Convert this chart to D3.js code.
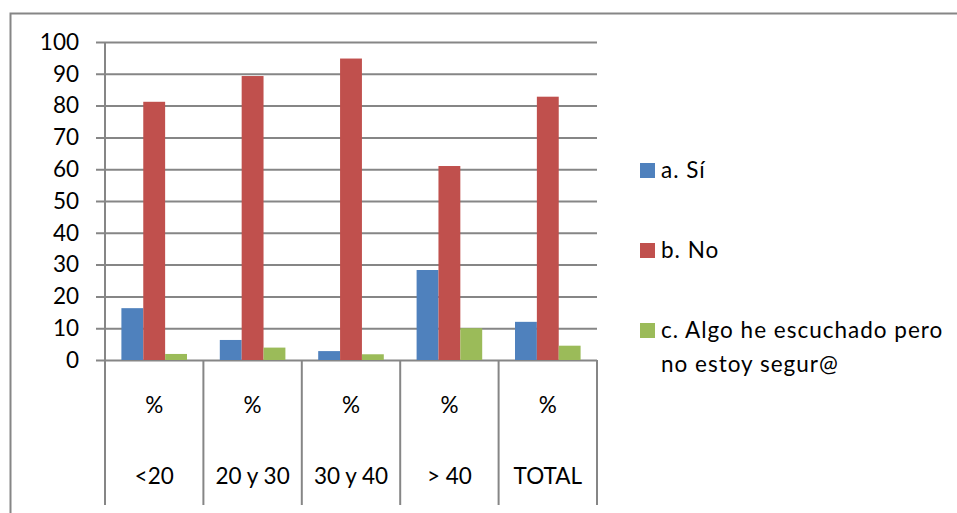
<!DOCTYPE html>
<html>
<head>
<meta charset="utf-8">
<script src="https://cdn.jsdelivr.net/npm/d3@7"></script>
<style>
  body { margin: 0; background: #fff; }
  text { font-family: Lato, "Open Sans", sans-serif; fill: #000; }
</style>
</head>
<body>
<svg id="chart"></svg>
<script>
const svgWidth = 957, svgHeight = 513;

const categories = ['<20', '20 y 30', '30 y 40', '> 40', 'TOTAL'];
const subLabels = ['%', '%', '%', '%', '%'];
const seriesNames = ['a. Sí', 'b. No', 'c. Algo he escuchado pero no estoy segur@'];
const siValues = [16.3, 6.3, 2.8, 28.3, 12.0];
const noValues = [81.2, 89.3, 94.8, 61.0, 82.8];
const algoValues = [1.9, 3.9, 1.8, 10.0, 4.5];
const colors = ['#4F81BD', '#C0504D', '#9BBB59'];
const yTicks = [0, 10, 20, 30, 40, 50, 60, 70, 80, 90, 100];

const seriesValues = [siValues, noValues, algoValues];
const fontSize = 22.5;

const svg = d3.select('#chart')
    .attr('width', svgWidth)
    .attr('height', svgHeight);

// outer chart border (cut off at right and bottom)
svg.append('rect')
    .attr('x', 10.5)
    .attr('y', 13.5)
    .attr('width', svgWidth + 20)
    .attr('height', svgHeight)
    .attr('fill', 'none')
    .attr('stroke', '#868686')
    .attr('stroke-width', 2);

const plotLeft = 105, plotRight = 597, plotTop = 42, plotBottom = 360;

const x = d3.scaleBand()
    .domain(categories)
    .range([plotLeft, plotRight]);

const xInner = d3.scaleBand()
    .domain(seriesNames)
    .range([0, x.bandwidth()])
    .paddingOuter(0.75)
    .paddingInner(0);

const y = d3.scaleLinear()
    .domain([0, 100])
    .range([plotBottom, plotTop]);

// gridlines with ticks
svg.append('g')
    .attr('transform', `translate(${plotLeft},0)`)
    .call(d3.axisLeft(y).tickValues(yTicks).tickSize(-(plotRight - plotLeft)).tickSizeOuter(0).tickPadding(26))
    .call(g => g.select('.domain').remove())
    .call(g => g.selectAll('.tick line')
        .attr('x1', -9)
        .attr('stroke', '#868686')
        .attr('stroke-width', 2))
    .call(g => g.selectAll('.tick text')
        .attr('font-size', fontSize)
        .attr('font-family', 'Lato, sans-serif')
        .attr('fill', '#000'));

// vertical axis line
svg.append('line')
    .attr('x1', plotLeft).attr('x2', plotLeft)
    .attr('y1', plotTop).attr('y2', 505)
    .attr('stroke', '#868686')
    .attr('stroke-width', 2);

// category separators (table style labels)
svg.selectAll('.sep')
    .data(categories)
    .enter()
    .append('line')
    .attr('class', 'sep')
    .attr('x1', d => x(d) + x.bandwidth())
    .attr('x2', d => x(d) + x.bandwidth())
    .attr('y1', plotBottom)
    .attr('y2', 505)
    .attr('stroke', '#868686')
    .attr('stroke-width', 2);

// bars
const groups = svg.selectAll('.cat')
    .data(categories)
    .enter()
    .append('g')
    .attr('class', 'cat')
    .attr('transform', d => `translate(${x(d)},0)`);

groups.selectAll('rect')
    .data((d, i) => seriesNames.map((s, j) => ({ s, j, v: seriesValues[j][i] })))
    .enter()
    .append('rect')
    .attr('x', d => xInner(d.s))
    .attr('y', d => y(d.v))
    .attr('width', xInner.bandwidth())
    .attr('height', d => plotBottom - y(d.v))
    .attr('fill', d => colors[d.j]);

// category labels
svg.selectAll('.pct')
    .data(categories)
    .enter()
    .append('text')
    .attr('class', 'pct')
    .attr('x', d => x(d) + x.bandwidth() / 2)
    .attr('y', 413)
    .attr('text-anchor', 'middle')
    .attr('font-size', fontSize)
    .text((d, i) => subLabels[i]);

svg.selectAll('.catlabel')
    .data(categories)
    .enter()
    .append('text')
    .attr('class', 'catlabel')
    .attr('x', d => x(d) + x.bandwidth() / 2)
    .attr('y', 484)
    .attr('text-anchor', 'middle')
    .attr('font-size', fontSize)
    .text(d => d);

// legend
const legendY = [163, 243, 323];
const legendLines = [['a. Sí'], ['b. No'], ['c. Algo he escuchado pero', 'no estoy segur@']];

const legend = svg.selectAll('.legend')
    .data(seriesNames)
    .enter()
    .append('g')
    .attr('class', 'legend')
    .attr('transform', (d, i) => `translate(640,${legendY[i]})`);

legend.append('rect')
    .attr('width', 15)
    .attr('height', 15)
    .attr('fill', (d, i) => colors[i]);

legend.each(function (d, i) {
    d3.select(this).selectAll('text')
        .data(legendLines[i])
        .enter()
        .append('text')
        .attr('x', 21)
        .attr('y', (t, k) => 15 + k * 34)
        .attr('font-size', fontSize)
        .attr('letter-spacing', 1)
        .text(t => t);
});
</script>
</body>
</html>
